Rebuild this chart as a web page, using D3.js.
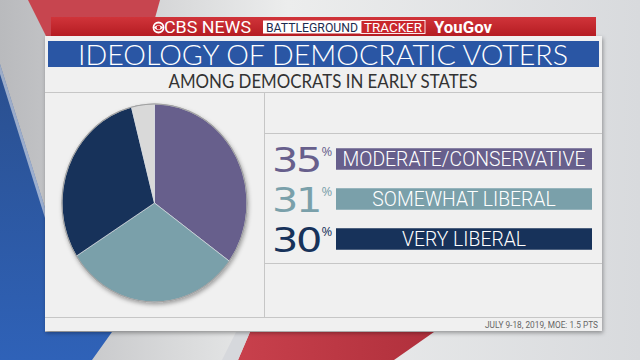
<!DOCTYPE html>
<html><head><meta charset="utf-8">
<script src="https://cdn.jsdelivr.net/npm/d3@7/dist/d3.min.js"></script>
<style>html,body{margin:0;padding:0;background:#dcdde0;}svg{display:block;}</style>
</head><body>
<svg id="c" width="640" height="360"></svg>
<script>
// ---- data ----
const categories = ["MODERATE/CONSERVATIVE", "SOMEWHAT LIBERAL", "VERY LIBERAL", "OTHER/NOT SURE"];
const values = [35, 31, 30, 4];
const legendCategories = ["MODERATE/CONSERVATIVE", "SOMEWHAT LIBERAL", "VERY LIBERAL"];
const legendValues = [35, 31, 30];
const title = "IDEOLOGY OF DEMOCRATIC VOTERS";
const subtitle = "AMONG DEMOCRATS IN EARLY STATES";
const footnote = "JULY 9-18, 2019, MOE: 1.5 PTS";

const sliceColors = ["#675f8c", "#7aa0aa", "#17325a", "#d9d9d9"];

const svg = d3.select("#c");
const defs = svg.append("defs");

// background gradients
const bg = defs.append("linearGradient").attr("id","bg").attr("x1","0").attr("x2","1").attr("y1","0").attr("y2","0");
bg.append("stop").attr("offset","0").attr("stop-color","#b9babd");
bg.append("stop").attr("offset","0.45").attr("stop-color","#eceded");
bg.append("stop").attr("offset","1").attr("stop-color","#d8dadd");
const blue = defs.append("linearGradient").attr("id","blueg").attr("x1","0").attr("x2","0").attr("y1","0").attr("y2","1");
blue.append("stop").attr("offset","0").attr("stop-color","#2a4f8e");
blue.append("stop").attr("offset","1").attr("stop-color","#2f62b8");
const redB = defs.append("linearGradient").attr("id","redb").attr("x1","0").attr("x2","1");
redB.append("stop").attr("offset","0").attr("stop-color","#c8404c");
redB.append("stop").attr("offset","1").attr("stop-color","#b0303c");
const hdr = defs.append("linearGradient").attr("id","hdr").attr("x1","0").attr("x2","0").attr("y1","0").attr("y2","1");
hdr.append("stop").attr("offset","0").attr("stop-color","#d0343a");
hdr.append("stop").attr("offset","1").attr("stop-color","#b51c22");
const sh = defs.append("filter").attr("id","sh").attr("x","-20%").attr("y","-20%").attr("width","140%").attr("height","140%");
sh.append("feDropShadow").attr("dx",1).attr("dy",2).attr("stdDeviation",2).attr("flood-color","#000").attr("flood-opacity",0.35);

svg.append("rect").attr("width",640).attr("height",360).attr("fill","url(#bg)");
svg.append("polygon").attr("points","0,64 45,208 45,332 112,332 92,360 0,360").attr("fill","url(#blueg)");
svg.append("polygon").attr("points","0,64 45,208 45,218 0,74").attr("fill","#e8eaee").attr("opacity",0.6);
svg.append("polygon").attr("points","28,0 160,0 150,36 46,36").attr("fill","#c7454f");
svg.append("polygon").attr("points","250,332 434,332 394,360 238,360").attr("fill","url(#redb)");
svg.append("polygon").attr("points","236,332 250,332 238,360 222,360").attr("fill","#d6d8dc");

// panel
svg.append("rect").attr("x",45).attr("y",36).attr("width",557).attr("height",295).attr("fill","#f0f0f0").attr("filter","url(#sh)");
// header bar
svg.append("rect").attr("x",51).attr("y",17).attr("width",545).attr("height",19).attr("fill","url(#hdr)");
// title bar
svg.append("rect").attr("x",48).attr("y",41).attr("width",551).attr("height",26).attr("fill","#2a56a4");

// header contents
const hg = svg.append("g");
hg.append("circle").attr("cx",158.5).attr("cy",27.5).attr("r",5).attr("fill","none").attr("stroke","#fff").attr("stroke-width",1.8);
hg.append("path").attr("d","M153.8,27.5 Q158.5,22.5 163.2,27.5 Q158.5,32.5 153.8,27.5 Z").attr("fill","#fff");
hg.append("circle").attr("cx",158.5).attr("cy",27.5).attr("r",1.9).attr("fill","#c32026");
hg.append("text").attr("x",164).attr("y",33).attr("font-family","Roboto, 'DejaVu Sans Condensed', sans-serif").attr("font-size",16).attr("fill","#fff")
  .attr("textLength",87).attr("lengthAdjust","spacingAndGlyphs").text("CBS NEWS");
hg.append("rect").attr("x",263).attr("y",20.5).attr("width",98).attr("height",13).attr("fill","#fff");
hg.append("text").attr("x",312).attr("y",31.6).attr("text-anchor","middle").attr("font-family","Roboto, sans-serif").attr("font-size",12).attr("fill","#1b2b4f")
  .attr("textLength",92).attr("lengthAdjust","spacingAndGlyphs").text("BATTLEGROUND");
hg.append("rect").attr("x",361).attr("y",20.5).attr("width",64).attr("height",13).attr("fill","#c9262c").attr("stroke","#fff").attr("stroke-width",0.9);
hg.append("text").attr("x",393).attr("y",31.6).attr("text-anchor","middle").attr("font-family","Roboto, sans-serif").attr("font-size",12).attr("fill","#fff")
  .attr("textLength",58).attr("lengthAdjust","spacingAndGlyphs").text("TRACKER");
hg.append("text").attr("x",434).attr("y",33).attr("font-family","Roboto, sans-serif").attr("font-weight",700).attr("font-size",16).attr("fill","#fff")
  .attr("textLength",58).attr("lengthAdjust","spacingAndGlyphs").text("YouGov");

// title & subtitle
svg.append("text").attr("x",323).attr("y",64.5).attr("text-anchor","middle").attr("font-family","Lato, 'Open Sans', sans-serif").attr("font-weight",300)
  .attr("font-size",28).attr("fill","#fff").attr("textLength",490).attr("lengthAdjust","spacingAndGlyphs").text(title);
svg.append("text").attr("x",323).attr("y",87.5).attr("text-anchor","middle").attr("font-family","Lato, 'Open Sans', sans-serif").attr("font-weight",400)
  .attr("font-size",19).attr("fill","#333").attr("textLength",309).attr("lengthAdjust","spacingAndGlyphs").text(subtitle);

// panel lines
const lineC = "#c6c6c6";
const L = (x1,y1,x2,y2)=>svg.append("line").attr("x1",x1).attr("y1",y1).attr("x2",x2).attr("y2",y2).attr("stroke",lineC).attr("stroke-width",1);
L(45,92.5,602,92.5); L(45,317.5,602,317.5); L(264.5,92.5,264.5,317.5);
L(264.5,133.5,602,133.5); L(264.5,263.5,602,263.5);

// pie
const pie = d3.pie().sort(null).value(d=>d)(values);
const R = 92.5;
const arc = d3.arc().innerRadius(0).outerRadius(R);
const pg = svg.append("g").attr("transform","translate(154.5,203) scale(1,1.07)");
pg.append("circle").attr("r",R+0.5).attr("fill","#999").attr("filter","url(#sh)");
pg.selectAll("path").data(pie).join("path").attr("d",arc).attr("fill",(d,i)=>sliceColors[i])
  .attr("stroke","#d8dde2").attr("stroke-width",0.7);
pg.append("circle").attr("r",R).attr("fill","none").attr("stroke","#a0a0a0").attr("stroke-width",1);

// legend
const y = d3.scalePoint().domain(legendCategories).range([159, 239]);
const barX = d3.scaleLinear().domain([0,1]).range([336, 592]);
const barH = 21.5;
const lg = svg.append("g");
const rows = lg.selectAll("g").data(legendCategories).join("g");
rows.append("rect").attr("x",barX(0)).attr("y",d=>y(d)-barH/2).attr("width",barX(1)-barX(0)).attr("height",barH)
  .attr("fill",(d,i)=>sliceColors[i]);
const labels = rows.append("text").attr("x",(barX(0)+barX(1))/2).attr("y",d=>y(d)+7).attr("text-anchor","middle")
  .attr("font-family","Roboto, Lato, sans-serif").attr("font-weight",300).attr("font-size",19.5).attr("fill","#fff").text(d=>d);
let maxLen = 0; labels.each(function(){maxLen=Math.max(maxLen,this.getComputedTextLength());});
const k = 243/maxLen;
labels.each(function(){const w=this.getComputedTextLength()*k; d3.select(this).attr("textLength",w).attr("lengthAdjust","spacingAndGlyphs");});

// big percentages (horizontally widened glyphs)
const sx = 1.24;
rows.each(function(d,i){
  const g = d3.select(this).append("g").attr("transform",`translate(272,${y(d)+13}) scale(${sx},1)`);
  const t = g.append("text").attr("x",0).attr("y",0)
    .attr("font-family","'DejaVu Sans', sans-serif").attr("font-size",33.5).attr("letter-spacing",-2)
    .attr("fill",sliceColors[i]).text(legendValues[i]);
  const w = t.node().getComputedTextLength()*sx;
  d3.select(this).append("text").attr("x",272+w+1.5).attr("y",y(d)-3.5)
    .attr("font-family","'Open Sans', sans-serif").attr("font-size",13).attr("fill",sliceColors[i]).text("%");
});

// footnote
svg.append("text").attr("x",598).attr("y",327.5).attr("text-anchor","end").attr("font-family","Roboto, 'DejaVu Sans Condensed', sans-serif")
  .attr("font-size",9).attr("fill","#666").attr("textLength",113).attr("lengthAdjust","spacingAndGlyphs").text(footnote);
</script>
</body></html>
